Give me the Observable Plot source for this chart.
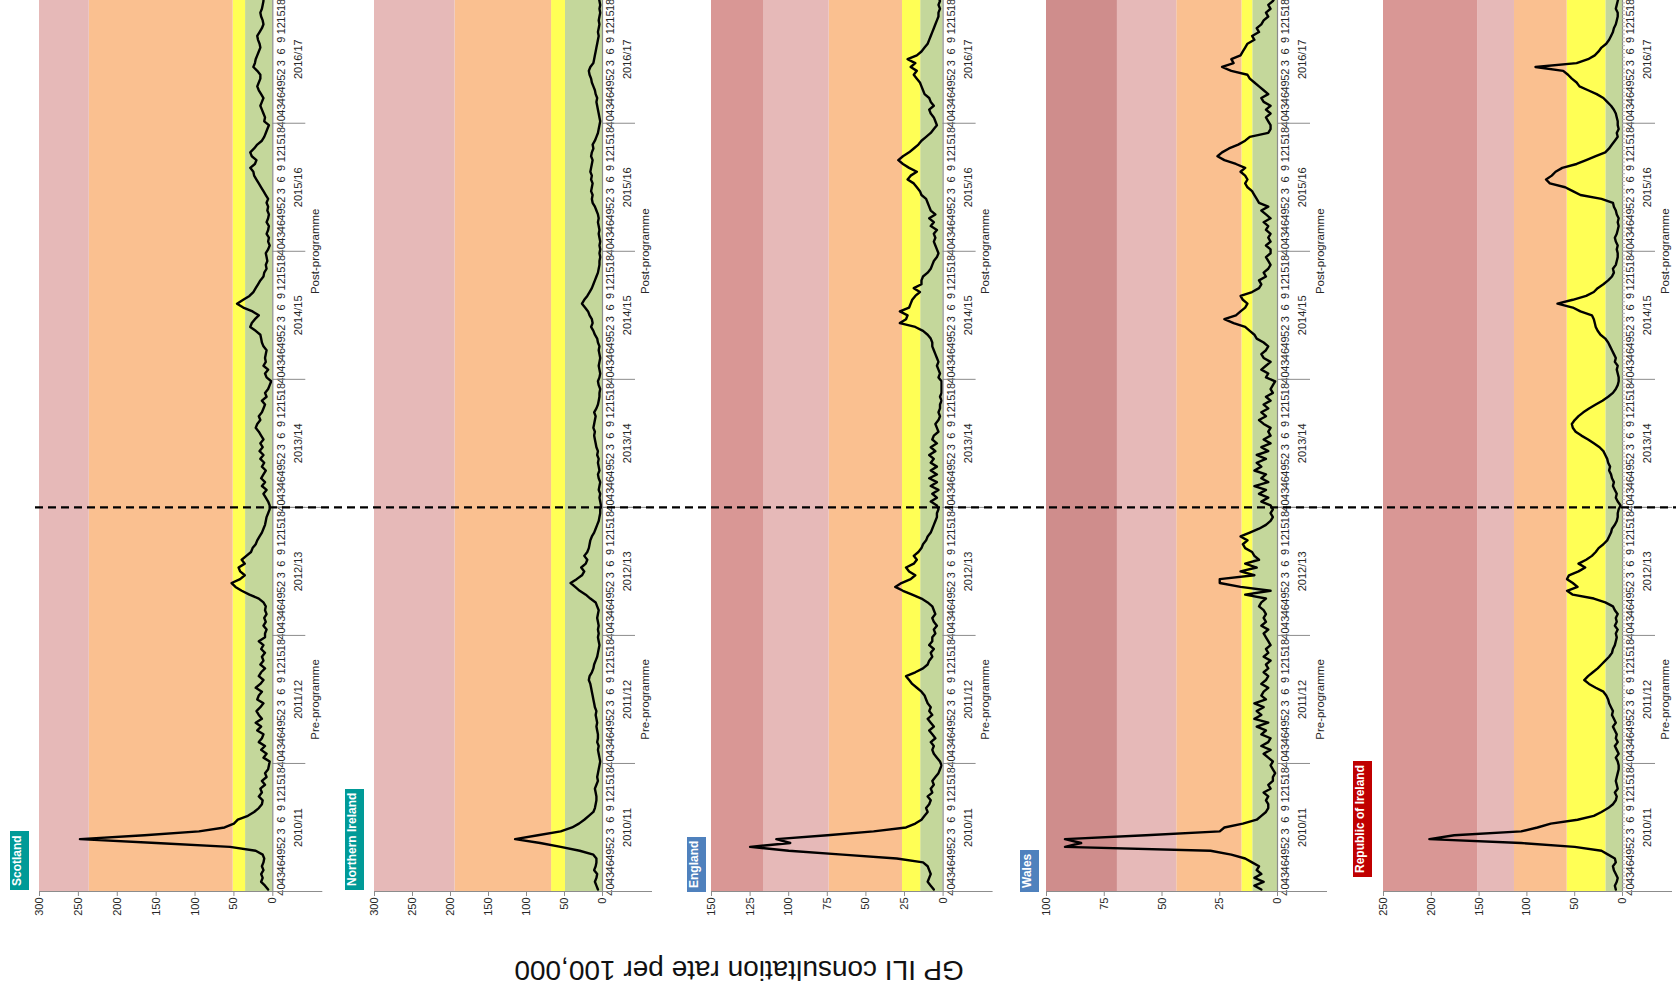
<!DOCTYPE html>
<html>
<head>
<meta charset="utf-8">
<script src="https://cdn.jsdelivr.net/npm/d3@7"></script>
<script src="https://cdn.jsdelivr.net/npm/@observablehq/plot@0.6"></script>
<style>
  html, body { margin: 0; padding: 0; background: #ffffff; overflow: hidden; width: 1676px; height: 995px; }
  #rot { position: absolute; left: 0; top: 0; width: 995px; height: 1676px;
         transform-origin: 0 0; transform: translate(0px, 995px) rotate(-90deg); }
  .panel { position: absolute; left: 0; }
  .tag { position: absolute; height: 19px; line-height: 19px; padding: 0 4px; color: #fff;
         font: bold 12px "Liberation Sans", Arial, sans-serif; white-space: nowrap; }
  #ytitle { position: absolute; left: 25px; top: 739px; transform: translate(-50%, -50%) rotate(-90deg);
            font: 28px "Liberation Sans", Arial, sans-serif; color: #111; white-space: nowrap; }
</style>
</head>
<body>
<div id="rot"></div>
<script>
// ---------------- data ----------------
const seasons = ["2010/11", "2011/12", "2012/13", "2013/14", "2014/15", "2015/16", "2016/17"];
const weekLabels = ["40", "43", "46", "49", "52", "3", "6", "9", "12", "15", "18"];
const weeksPerSeason = 33;
const programmeStartSeason = 3; // 2013/14
const periods = ["Pre-programme", "Post-programme"];

const countries = ["Scotland", "Northern Ireland", "England", "Wales", "Republic of Ireland"];
const yMax = [300, 300, 150, 100, 250];
const yStep = [50, 50, 25, 25, 50];
// intensity thresholds (baseline / low / moderate / high / very high)
const thresholds = [
  [35, 51, 236],
  [48.7, 67, 194],
  [14.5, 26.3, 73.8, 116.3],
  [10.7, 15.4, 43.6, 69.3],
  [17.4, 57.9, 113, 151.3]
];

const scotland = [
  [6,10,15,13,15,12,14,12,11,13,22,55,150,248,165,95,62,50,45,32,24,18,14,13,18,14,16,10,14,8,10,6,5],
  [4,12,8,15,10,18,14,12,20,15,22,14,18,21,16,12,20,18,14,22,16,12,18,15,10,16,12,14,10,15,12,18,10],
  [10,8,12,9,11,8,10,9,12,18,30,40,48,53,42,36,42,44,36,40,34,28,26,22,20,17,14,12,10,9,8,6,4],
  [4,6,9,12,8,14,10,15,12,9,14,11,16,12,17,13,16,12,15,18,22,20,16,18,14,12,10,14,8,10,6,4,2],
  [8,10,6,12,9,10,9,8,12,14,15,16,22,29,27,23,18,26,38,46,38,30,25,22,19,16,12,11,8,9,7,8,9],
  [6,4,6,5,8,6,5,8,6,5,7,6,8,6,9,12,15,18,21,24,25,29,23,21,27,29,24,20,14,11,9,7,5],
  [11,10,12,14,16,14,12,15,18,20,18,16,16,20,25,23,22,20,18,16,17,19,20,17,14,12,13,15,16,14,13,12,12]
];
const northernIreland = [
  [6,8,10,8,7,11,9,8,8,12,30,55,82,115,85,55,40,31,24,18,12,10,9,8,8,9,10,8,6,7,6,5,4],
  [3,4,5,6,5,7,6,6,7,8,7,8,9,8,10,11,12,13,14,15,16,18,17,14,12,11,9,7,6,5,4,5,6],
  [5,6,5,6,7,6,5,7,9,16,22,30,36,42,34,27,24,28,22,20,24,20,18,17,16,14,11,9,7,5,4,3,3],
  [2,3,4,3,5,4,3,5,6,4,5,6,5,7,6,8,9,10,11,10,12,11,10,9,11,8,6,5,4,4,3,5,6],
  [4,3,4,5,4,3,4,5,4,6,7,10,12,15,13,14,17,19,23,27,24,20,17,14,12,10,8,6,5,4,4,3,4],
  [3,4,3,4,5,4,5,6,5,6,8,10,13,14,13,15,14,13,15,14,16,15,14,13,15,14,12,13,10,8,6,5,4],
  [3,4,5,6,7,8,7,9,10,12,14,15,17,18,16,12,11,10,9,8,7,6,5,6,5,4,5,4,3,4,3,4,5]
];
const england = [
  [6,8,10,9,8,9,10,13,30,65,100,125,99,108,75,45,24,18,14,12,10,11,9,8,10,7,8,6,7,5,3,2,1],
  [2,4,6,7,6,8,5,7,9,6,8,10,7,9,8,10,11,12,14,17,20,22,24,18,13,10,9,7,8,6,9,7,7],
  [5,6,4,6,7,5,6,7,10,14,20,26,31,27,21,18,22,24,19,17,19,16,14,13,11,10,8,7,6,5,4,4,3],
  [4,8,4,7,3,8,4,9,4,8,4,8,6,9,5,8,4,7,6,3,4,5,3,2,3,2,2,1,2,1,1,1,1],
  [3,2,3,4,3,4,5,6,7,7,8,10,13,18,28,24,23,28,22,21,20,18,15,19,14,14,13,10,8,7,6,4,3],
  [4,5,6,5,6,4,8,6,9,5,8,9,10,11,14,15,17,19,23,21,17,22,26,29,26,22,19,16,14,11,8,6,4],
  [5,6,8,9,6,8,9,12,13,14,15,17,19,17,21,18,23,17,14,12,10,9,8,7,6,5,4,3,3,2,3,2,3]
];
const wales = [
  [7,10,6,10,7,9,8,11,14,20,29,92,85,92,57,25,23,15,9,7,5,4,4,5,4,6,3,4,2,2,1,2,3],
  [2,4,6,3,7,4,3,7,5,9,4,10,7,9,6,10,5,7,6,4,7,5,4,6,4,5,3,6,4,5,3,4,5],
  [6,4,7,5,6,5,6,8,7,5,14,3,16,25,25,10,16,9,14,8,10,11,14,15,13,16,12,8,5,3,2,3,2],
  [3,7,4,8,5,10,4,7,5,10,7,9,5,9,4,7,3,6,3,4,3,6,8,5,7,4,6,3,5,2,3,2,1],
  [5,4,7,5,3,6,7,5,4,6,9,10,12,14,19,23,18,16,14,13,15,16,11,8,7,8,5,6,4,3,4,5,3],
  [3,5,3,4,3,5,4,6,3,5,7,4,8,9,10,11,13,14,13,14,16,14,18,23,26,24,21,17,14,12,4,3,3],
  [4,5,3,5,3,6,7,4,6,8,10,12,13,20,24,19,20,16,15,14,13,10,11,8,9,7,6,4,5,3,4,2,1]
];
const ireland = [
  [7,8,6,5,7,9,10,7,8,15,22,50,106,202,176,106,89,75,47,30,22,15,10,7,6,8,5,6,7,6,5,4,4],
  [5,7,4,6,8,5,7,6,8,10,7,9,11,10,12,14,15,17,20,28,35,40,36,31,26,22,18,14,11,10,8,7,6],
  [7,5,8,6,7,5,8,10,18,30,52,58,47,52,58,56,46,39,46,38,32,28,25,20,16,14,12,11,8,6,5,5,4],
  [2,5,7,6,8,10,9,11,12,14,13,15,16,18,20,24,30,36,43,49,52,53,50,46,41,35,28,21,15,10,7,5,4],
  [4,5,6,5,8,7,9,11,13,15,18,23,26,28,29,30,32,44,52,68,52,38,30,26,20,15,11,9,10,7,6,5,5],
  [6,5,7,8,6,5,4,5,4,6,7,9,10,22,44,52,60,76,80,74,70,63,48,38,28,18,14,11,8,5,6,4,5],
  [5,6,7,9,12,16,20,27,36,45,48,53,57,62,91,48,36,29,25,22,17,14,12,10,9,7,6,5,5,7,6,5,4]
];
const seriesByCountry = [scotland, northernIreland, england, wales, ireland];

// ---------------- styling / layout ----------------
const bandColors = ["#c4d79b", "#ffff55", "#fac090", "#e6b9b8", "#d99795"];
const topBandColor = ["#e6b9b8", "#e6b9b8", "#d99795", "#cf8d8c", "#d99795"];
const tagColors = ["#009a97", "#009a97", "#4f81bd", "#4f81bd", "#c00000"];
const panelTop = [39, 374.3, 710.7, 1045.7, 1382.7];
const panelHeight = [233.3, 228, 231.6, 231, 239];
const tagPos = [[105, 10], [105, 345], [103, 687], [103, 1020], [118, 1353]];
const axisGray = "#8c8c8c";
const textColor = "#262626";
const narrow = "'Liberation Sans Narrow', 'Arial Narrow', 'Liberation Sans', Arial, sans-serif";
const regular = "'Liberation Sans', Arial, sans-serif";
const W = 1000, ML = 103, MR = 0.7, MT = 8, MB = 62;

const nWeeks = seasons.length * weeksPerSeason;
const xDomain = [-0.5, nWeeks - 0.5];
const weekTicks = d3.range(nWeeks).filter(i => (i % weeksPerSeason) % 3 === 0);
const seasonEdges = d3.range(1, seasons.length).map(k => k * weeksPerSeason - 0.5);
const majorEdges = [-0.5, programmeStartSeason * weeksPerSeason - 0.5];
const categoryEdges = d3.range(nWeeks).map(i => i - 0.5);
const periodData = [
  {label: periods[0], from: 0, to: programmeStartSeason * weeksPerSeason - 1},
  {label: periods[1], from: programmeStartSeason * weeksPerSeason, to: nWeeks - 1}
];

const root = document.getElementById("rot");

countries.forEach((name, c) => {
  const values = seriesByCountry[c].flat().map((v, i) => ({i, v}));
  const edges = [0, ...thresholds[c], yMax[c]];
  const bands = d3.range(edges.length - 1).map(b => ({
    y1: edges[b], y2: edges[b + 1],
    fill: b === edges.length - 2 ? topBandColor[c] : bandColors[b]
  }));
  const yTicks = d3.range(0, yMax[c] + 0.001, yStep[c]);
  const marks = [
    Plot.rect(bands, {y1: "y1", y2: "y2", fill: "fill"}),
    Plot.line(values, {x: "i", y: "v", stroke: "#000", strokeWidth: 2.4, strokeLinejoin: "round"}),
    Plot.ruleY([0], {stroke: axisGray, strokeWidth: 1.2}),
    Plot.ruleX([-0.5], {stroke: axisGray, strokeWidth: 1.2}),
    Plot.axisY(yTicks, {anchor: "left", label: null, tickSize: 4, tickPadding: 2, stroke: axisGray, fill: textColor,
                        fontSize: 11, fontFamily: regular}),
    Plot.axisX(weekTicks, {anchor: "bottom", label: null, tickSize: 0, tickPadding: 4, fill: textColor,
                           tickFormat: i => weekLabels[(i % weeksPerSeason) / 3],
                           fontSize: 11, fontFamily: narrow}),
    Plot.axisX(seasonEdges, {anchor: "bottom", label: null, tickSize: 33, tickFormat: () => "", stroke: axisGray}),
    Plot.axisX(majorEdges, {anchor: "bottom", label: null, tickSize: 50, tickFormat: () => "", stroke: axisGray}),
    Plot.text(seasons, {x: (d, k) => k * weeksPerSeason + (weeksPerSeason - 1) / 2, text: d => d,
                        frameAnchor: "bottom", lineAnchor: "top", dy: 21, fontSize: 11,
                        fontFamily: narrow, fill: textColor}),
    Plot.text(periodData, {x: d => (d.from + d.to) / 2, text: "label", frameAnchor: "bottom",
                           lineAnchor: "top", dy: 38, fontSize: 11.5, fontFamily: narrow, fill: textColor})
  ];
  if (c === 4) marks.push(Plot.axisX(categoryEdges, {anchor: "bottom", label: null, tickSize: 3, tickFormat: () => "", stroke: "#b0b0b0"}));
  const chart = Plot.plot({
    width: W, height: MT + panelHeight[c] + MB,
    marginTop: MT, marginBottom: MB, marginLeft: ML, marginRight: MR,
    x: {domain: xDomain, axis: null, label: null},
    y: {domain: [0, yMax[c]], axis: null, label: null},
    style: {background: "transparent", overflow: "visible", maxWidth: "none", fontFamily: regular},
    marks
  });
  chart.classList.add("panel");
  chart.style.top = (panelTop[c] - MT) + "px";
  root.appendChild(chart);

  const tag = document.createElement("div");
  tag.className = "tag";
  tag.textContent = name;
  tag.style.background = tagColors[c];
  tag.style.left = tagPos[c][0] + "px";
  tag.style.top = tagPos[c][1] + "px";
  root.appendChild(tag);
});

// programme start: dashed rule across all panels
const overlay = Plot.plot({
  width: W, height: 1676, marginTop: 35, marginBottom: 0, marginLeft: ML, marginRight: MR,
  x: {domain: xDomain, axis: null, label: null},
  style: {background: "transparent", overflow: "visible", maxWidth: "none"},
  marks: [Plot.ruleX(majorEdges.slice(1), {stroke: "#000", strokeWidth: 2.2, strokeDasharray: "8,5"})]
});
overlay.classList.add("panel");
overlay.style.top = "0px";
overlay.style.pointerEvents = "none";
root.appendChild(overlay);

const ytitle = document.createElement("div");
ytitle.id = "ytitle";
ytitle.textContent = "GP ILI consultation rate per 100,000";
root.appendChild(ytitle);
</script>
</body>
</html>
